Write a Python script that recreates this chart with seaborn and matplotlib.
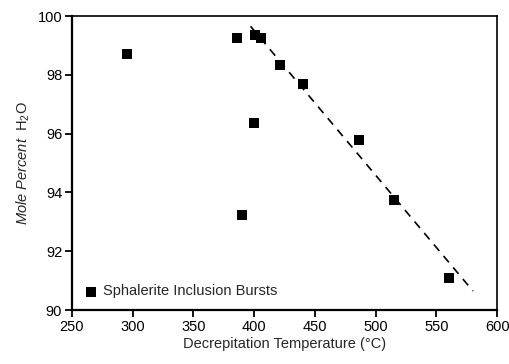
import matplotlib
matplotlib.use("Agg")
import matplotlib.pyplot as plt
import seaborn as sns
import pandas as pd

# Data
temperature = [295, 386, 401, 406, 421, 440, 486, 515, 560, 400, 390]
mole_pct_h2o = [98.7, 99.25, 99.35, 99.25, 98.35, 97.7, 95.8, 93.75, 91.1, 96.35, 93.25]
trend_x = [397, 580]
trend_y = [99.65, 90.65]
x_ticks = [250, 300, 350, 400, 450, 500, 550, 600]
y_ticks = [90, 92, 94, 96, 98, 100]

df = pd.DataFrame({"T": temperature, "H2O": mole_pct_h2o})
trend = pd.DataFrame({"T": trend_x, "H2O": trend_y})

sns.set_theme(style="ticks")
plt.rcParams["font.family"] = ["Liberation Sans", "DejaVu Sans"]
plt.rcParams["mathtext.fontset"] = "custom"
plt.rcParams["mathtext.rm"] = "Liberation Sans"
plt.rcParams["mathtext.it"] = "Liberation Sans:italic"

fig = plt.figure(figsize=(5.1, 3.64), dpi=100)
ax = fig.add_axes([0.141, 0.148, 0.834, 0.808])

sns.lineplot(data=trend, x="T", y="H2O", ax=ax, color="black", lw=1.2,
             dashes=False, linestyle=(0, (5, 4)))
sns.scatterplot(data=df, x="T", y="H2O", ax=ax, marker="s", s=55,
                color="black", edgecolor="black", linewidth=0,
                label="Sphalerite Inclusion Bursts", zorder=3)

ax.set_xlim(250, 600)
ax.set_ylim(90, 100)
ax.set_xticks(x_ticks)
ax.set_yticks(y_ticks)
ax.tick_params(axis="both", direction="out", length=5, width=1.3,
               labelsize=10.5, colors="black", pad=2)
ax.set_xlabel("Decrepitation Temperature (°C)", fontsize=10.5, labelpad=2)
ax.set_ylabel(r"$\mathit{Mole\ Percent}$  H$_2$O", fontsize=10.5, labelpad=4)

for side in ["left", "bottom"]:
    ax.spines[side].set_linewidth(1.6)
for side in ["top", "right"]:
    ax.spines[side].set_linewidth(1.2)
    ax.spines[side].set_visible(True)
for sp in ax.spines.values():
    sp.set_color("black")

leg = ax.legend(loc="lower left", frameon=False, fontsize=10.5,
                handletextpad=0.3, borderaxespad=0.4, handlelength=1.0,
                markerscale=0.9)

fig.savefig("out.png", dpi=100)
